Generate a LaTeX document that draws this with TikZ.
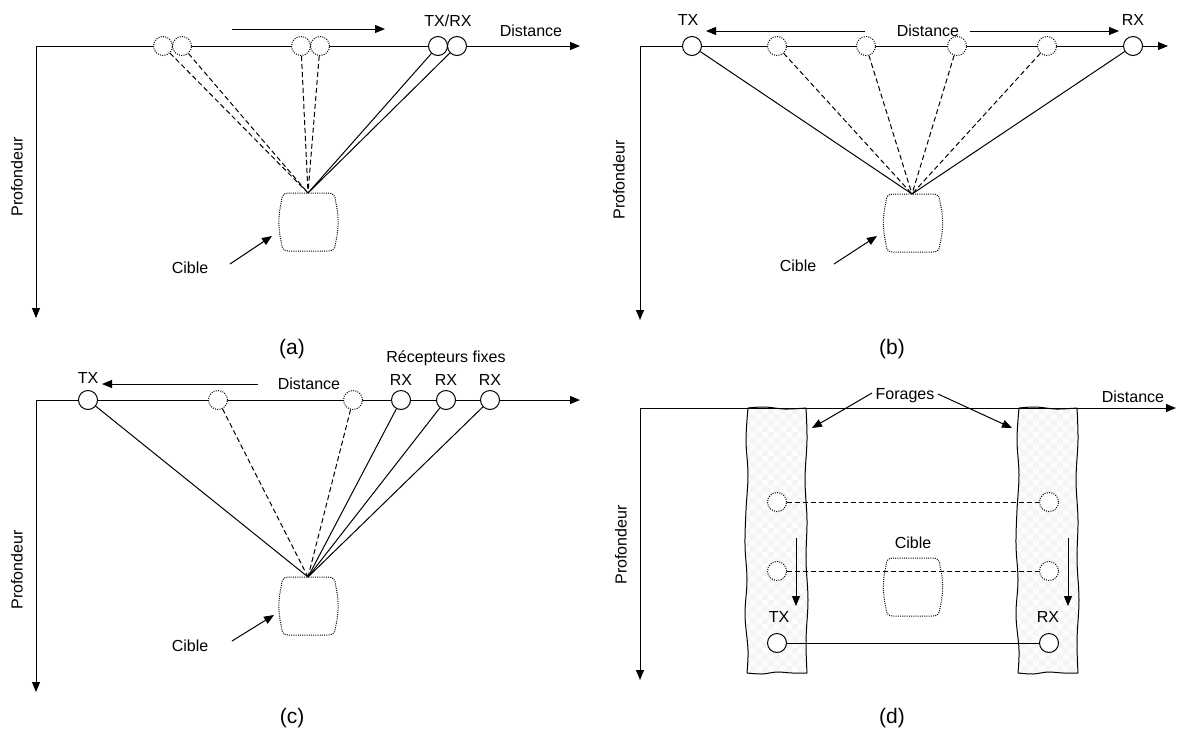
\documentclass[tikz,border=0pt]{standalone}
\usepackage{fontspec}
\setmainfont{Liberation Sans}
\usetikzlibrary{arrows.meta}
\newcommand{\drawcible}[2]{%
\draw[tgt] ({#1-20},{#2}) -- ({#1+20},{#2}) .. controls ({#1+25},{#2}) and ({#1+27},{#2+3}) .. ({#1+27},{#2+8}) .. controls ({#1+30.5},{#2+22}) and ({#1+30.5},{#2+36}) .. ({#1+27},{#2+50}) .. controls ({#1+27},{#2+55}) and ({#1+25},{#2+58}) .. ({#1+20},{#2+58}) -- ({#1-20},{#2+58}) .. controls ({#1-25},{#2+58}) and ({#1-27},{#2+55}) .. ({#1-27},{#2+50}) .. controls ({#1-30.5},{#2+36}) and ({#1-30.5},{#2+22}) .. ({#1-27},{#2+8}) .. controls ({#1-27},{#2+3}) and ({#1-25},{#2}) .. cycle;}
\newcommand{\drawforage}[1]{%
\begin{scope}[xshift=#1]
\begin{scope}
\clip (747,408) rectangle (807,672);
\fill[gray!2] (740,400) rectangle (815,680);
\foreach \i in {0,2,...,10} \foreach \j in {0,2,...,44} {%
\fill[gray!8] ({744+6*\i},{408+6*\j}) rectangle +(6,6);
\fill[gray!8] ({750+6*\i},{414+6*\j}) rectangle +(6,6);}
\end{scope}
\draw[wall] plot[smooth, tension=0.6] coordinates {(748,408) (746,440) (748,475) (746,510) (745,545) (747,580) (745,615) (748,650) (747,673)};
\draw[wall] plot[smooth, tension=0.6] coordinates {(806,408) (807,440) (805,480) (807,520) (806,560) (808,600) (806,640) (807,673)};
\draw[wall] plot[smooth, tension=0.6] coordinates {(747,673) (762,674) (777,672) (792,673) (807,673)};
\draw[wall] plot[smooth, tension=0.6] coordinates {(748,408) (765,407) (785,409) (806,408)};
\end{scope}}
\begin{document}
\begin{tikzpicture}[x=1pt,y=-1pt,
  every node/.style={font=\fontsize{16}{19}\selectfont, inner sep=0pt},
  ax/.style={line width=1pt, -{Triangle[length=10pt,width=8pt]}},
  arr/.style={line width=1pt, -{Triangle[length=10pt,width=8pt]}},
  sens/.style={circle, draw, line width=1pt, minimum size=19pt, inner sep=0pt, fill=white},
  ghost/.style={circle, draw, line width=1pt, dash pattern=on 1pt off 1.3pt, minimum size=19pt, inner sep=0pt, fill=white},
  ray/.style={line width=1pt},
  dray/.style={line width=1pt, dash pattern=on 5pt off 3pt},
  lbl/.style={font=\fontsize{21}{24}\selectfont},
  tgt/.style={line width=1pt, dash pattern=on 1pt off 1.2pt},
  wall/.style={line width=1pt},
]
\useasboundingbox (0,0) rectangle (1186,740);

% ================= (a)
\coordinate (Oa) at (36,46);
\coordinate (Xa) at (580,46);
\coordinate (Ya) at (36,318);
\draw[ax] (Oa) -- (Xa);
\draw[ax] (Oa) -- (Ya);
\node[rotate=90] (pa) at (17,177) {Profondeur};
\node (txrxa) at (448,21) {TX/RX};
\node (dista) at (531,31) {Distance};
\coordinate (ma1) at (232,29);
\coordinate (ma2) at (385,29);
\draw[arr] (ma1) -- (ma2);
\coordinate (ta) at (308,193);
\drawcible{308.5}{193}
\node[ghost] (a1) at (163,46) {};
\node[ghost] (a2) at (182,46) {};
\node[ghost] (a3) at (301,46) {};
\node[ghost] (a4) at (320,46) {};
\node[sens] (a5) at (438,46) {};
\node[sens] (a6) at (457,46) {};
\foreach \n in {a1,a2,a3,a4} \draw[dray] (\n) -- (ta);
\foreach \n in {a5,a6} \draw[ray] (\n) -- (ta);
\node (cla) at (190,268) {Cible};
\coordinate (cas) at (230,264);
\coordinate (cae) at (272,236);
\draw[arr] (cas) -- (cae);
\node[lbl] (la) at (292,349) {(a)};

% ================= (b)
\coordinate (Ob) at (640,46);
\coordinate (Xb) at (1168,46);
\coordinate (Yb) at (640,320);
\draw[ax] (Ob) -- (Xb);
\draw[ax] (Ob) -- (Yb);
\node[rotate=90] (pb) at (619,180) {Profondeur};
\node (txb) at (688,20) {TX};
\node (rxb) at (1133,20) {RX};
\node (distb) at (928,31) {Distance};
\coordinate (mb1) at (865,31);
\coordinate (mb2) at (706,31);
\coordinate (mb3) at (970,31);
\coordinate (mb4) at (1119,31);
\draw[arr] (mb1) -- (mb2);
\draw[arr] (mb3) -- (mb4);
\coordinate (tb) at (912,194);
\drawcible{913}{194}
\node[sens] (b0) at (692,46) {};
\node[ghost] (b1) at (777,46) {};
\node[ghost] (b2) at (866,46) {};
\node[ghost] (b3) at (957,46) {};
\node[ghost] (b4) at (1047,46) {};
\node[sens] (b5) at (1133,46) {};
\foreach \n in {b1,b2,b3,b4} \draw[dray] (\n) -- (tb);
\foreach \n in {b0,b5} \draw[ray] (\n) -- (tb);
\node (clb) at (798,266) {Cible};
\coordinate (cbs) at (834,264);
\coordinate (cbe) at (877,236);
\draw[arr] (cbs) -- (cbe);
\node[lbl] (lb) at (892,349) {(b)};

% ================= (c)
\coordinate (Oc) at (36,400);
\coordinate (Xc) at (580,400);
\coordinate (Yc) at (36,692);
\draw[ax] (Oc) -- (Xc);
\draw[ax] (Oc) -- (Yc);
\node[rotate=90] (pc) at (17,570) {Profondeur};
\node (txc) at (88,378) {TX};
\node (rxc1) at (401,380) {RX};
\node (rxc2) at (446,380) {RX};
\node (rxc3) at (490,380) {RX};
\node (recc) at (446,358) {Récepteurs fixes};
\node (distc) at (309,384) {Distance};
\coordinate (mc1) at (258,384);
\coordinate (mc2) at (102,384);
\draw[arr] (mc1) -- (mc2);
\coordinate (tc) at (308,577);
\drawcible{308.5}{577}
\node[sens] (c0) at (88,400) {};
\node[ghost] (c1) at (218,400) {};
\node[ghost] (c2) at (353,400) {};
\node[sens] (c3) at (401,400) {};
\node[sens] (c4) at (446,400) {};
\node[sens] (c5) at (490,400) {};
\foreach \n in {c1,c2} \draw[dray] (\n) -- (tc);
\foreach \n in {c0,c3,c4,c5} \draw[ray] (\n) -- (tc);
\node (clc) at (190,646) {Cible};
\coordinate (ccs) at (232,641);
\coordinate (cce) at (274,615);
\draw[arr] (ccs) -- (cce);
\node[lbl] (lc) at (292,718) {(c)};

% ================= (d)
\drawforage{0pt}
\drawforage{271pt}
\coordinate (Od) at (640,408);
\coordinate (Xd) at (1176,408);
\coordinate (Yd) at (640,680);
\draw[ax] (Od) -- (Xd);
\draw[ax] (Od) -- (Yd);
\node[rotate=90] (pd) at (621,545) {Profondeur};
\node (distd) at (1133,397) {Distance};
\node (forages) at (905,396) {Forages};
\coordinate (fd1) at (872,393);
\coordinate (fd2) at (812,428);
\coordinate (fd3) at (938,394);
\coordinate (fd4) at (1012,428);
\draw[arr] (fd1) -- (fd2);
\draw[arr] (fd3) -- (fd4);
\node (cld) at (913,543) {Cible};
\drawcible{913}{558}
\node[ghost] (d1) at (777,502) {};
\node[ghost] (d2) at (777,571) {};
\node[sens] (d3) at (777,643) {};
\node[ghost] (e1) at (1049,502) {};
\node[ghost] (e2) at (1049,571) {};
\node[sens] (e3) at (1049,643) {};
\draw[dray] (d1) -- (e1);
\draw[dray] (d2) -- (e2);
\draw[ray] (d3) -- (e3);
\node (txd) at (779,617) {TX};
\node (rxd) at (1048,617) {RX};
\coordinate (md1) at (796,538);
\coordinate (md2) at (796,606);
\coordinate (md3) at (1068,538);
\coordinate (md4) at (1068,606);
\draw[arr] (md1) -- (md2);
\draw[arr] (md3) -- (md4);
\node[lbl] (ld) at (892,718) {(d)};
\end{tikzpicture}
\end{document}
